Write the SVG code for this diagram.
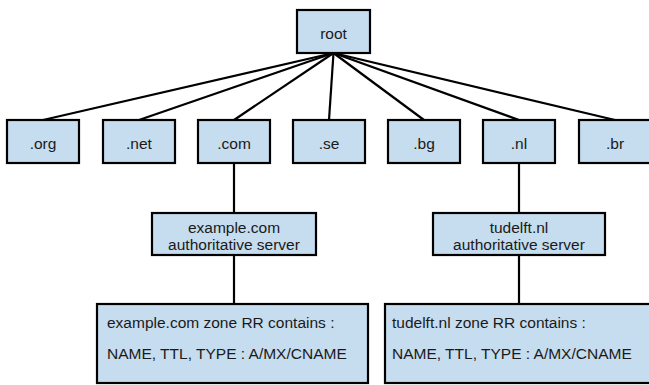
<svg xmlns="http://www.w3.org/2000/svg" width="649" height="385" viewBox="0 0 649 385">
<style>
.box{fill:#c6dcef;stroke:#000;stroke-width:2.2}
.t{font-family:"Liberation Sans",Arial,sans-serif;font-size:15.5px;fill:#1a1a1a}
.c{text-anchor:middle}
.ln{stroke:#000;stroke-width:2.2;fill:none}
</style>
<rect width="649" height="385" fill="#fff"/>
<g id="connectors">
<line class="ln" x1="333.5" y1="53" x2="43" y2="120"/>
<line class="ln" x1="333.5" y1="53" x2="139" y2="120"/>
<line class="ln" x1="333.5" y1="53" x2="234" y2="120"/>
<line class="ln" x1="333.5" y1="53" x2="329" y2="120"/>
<line class="ln" x1="333.5" y1="53" x2="424" y2="120"/>
<line class="ln" x1="333.5" y1="53" x2="519" y2="120"/>
<line class="ln" x1="333.5" y1="53" x2="615" y2="120"/>
<line class="ln" x1="234" y1="163" x2="234" y2="213"/>
<line class="ln" x1="234" y1="255" x2="234" y2="304"/>
<line class="ln" x1="519" y1="163" x2="519" y2="213"/>
<line class="ln" x1="519" y1="255" x2="519" y2="304"/>
</g>
<g id="root"><rect class="box" x="297" y="10" width="73" height="43"/><text class="t c" x="333.5" y="39">root</text></g>
<g id="org"><rect class="box" x="7" y="120" width="72" height="43"/><text class="t c" x="43" y="149">.org</text></g>
<g id="net"><rect class="box" x="103" y="120" width="72" height="43"/><text class="t c" x="139" y="149">.net</text></g>
<g id="com"><rect class="box" x="198" y="120" width="72" height="43"/><text class="t c" x="234" y="149">.com</text></g>
<g id="se"><rect class="box" x="293" y="120" width="72" height="43"/><text class="t c" x="329" y="149">.se</text></g>
<g id="bg"><rect class="box" x="388" y="120" width="72" height="43"/><text class="t c" x="424" y="149">.bg</text></g>
<g id="nl"><rect class="box" x="483" y="120" width="72" height="43"/><text class="t c" x="519" y="149">.nl</text></g>
<g id="br"><rect class="box" x="579" y="120" width="72" height="43"/><text class="t c" x="615" y="149">.br</text></g>
<g id="example-server"><rect class="box" x="152" y="213" width="164" height="42"/><text class="t c" x="234" y="233">example.com</text><text class="t c" x="234" y="250">authoritative server</text></g>
<g id="tudelft-server"><rect class="box" x="433" y="213" width="172" height="42"/><text class="t c" x="519" y="233">tudelft.nl</text><text class="t c" x="519" y="250">authoritative server</text></g>
<g id="example-zone"><rect class="box" x="97" y="304" width="271" height="79"/><text class="t" x="107" y="328">example.com zone RR contains :</text><text class="t" x="107" y="359">NAME, TTL, TYPE : A/MX/CNAME</text></g>
<g id="tudelft-zone"><rect class="box" x="385" y="304" width="271" height="79"/><text class="t" x="392" y="328">tudelft.nl zone RR contains :</text><text class="t" x="392" y="359">NAME, TTL, TYPE : A/MX/CNAME</text></g>
</svg>
